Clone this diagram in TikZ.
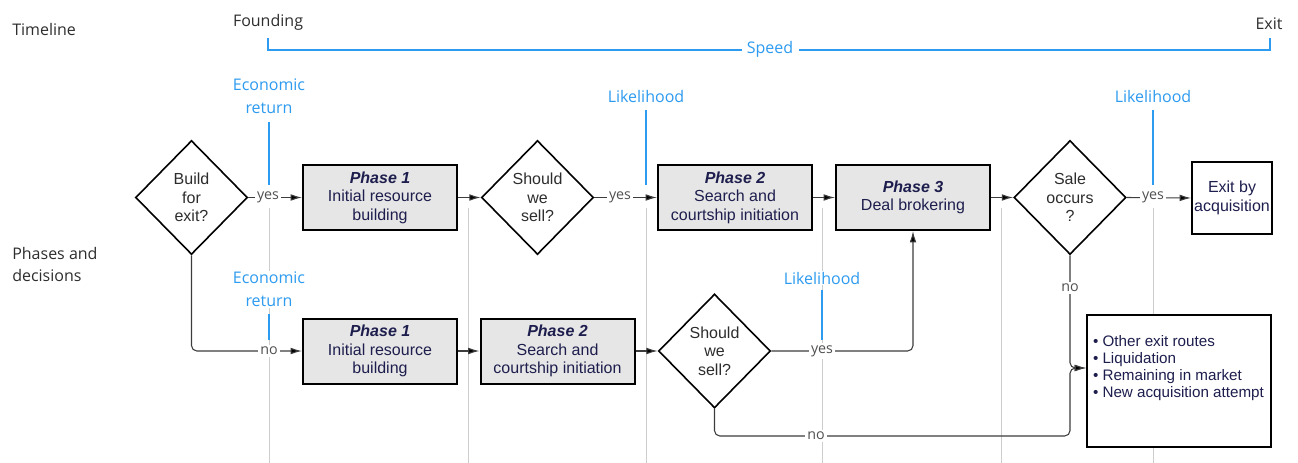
\documentclass[tikz,border=0pt]{standalone}
\usepackage{fontspec}
\setmainfont{Liberation Sans}
\newfontfamily\annotfont{Open Sans}
\usetikzlibrary{shapes.geometric,arrows.meta}

\definecolor{tlblue}{RGB}{45,155,240}
\definecolor{navy}{RGB}{30,30,78}
\definecolor{darktext}{RGB}{45,45,45}
\definecolor{boxgray}{RGB}{230,230,230}
\definecolor{linegray}{RGB}{60,60,60}
\definecolor{markgray}{RGB}{205,205,205}
\definecolor{anstext}{RGB}{80,80,80}

\tikzset{
  phase/.style={draw=black, line width=1.5pt, fill=boxgray, minimum width=115.5pt,
    minimum height=48.75pt, inner sep=1pt, align=center, text=navy,
    font=\fontsize{12}{13.9}\selectfont},
  decide/.style={diamond, draw=black, line width=1.2pt, fill=white, minimum width=84pt,
    minimum height=85.5pt, inner sep=0pt, align=center, text=darktext,
    font=\fontsize{12}{13.9}\selectfont},
  outcome/.style={draw=black, line width=1.5pt, fill=white, text=navy},
  flow/.style={draw=linegray, line width=0.8pt, rounded corners=4pt,
    -{Latex[length=8.5pt,width=5pt,fill=black]}},
  answer/.style={fill=white, text=anstext, inner sep=1.5pt,
    font=\annotfont\fontsize{10.7}{12}\selectfont},
  marker/.style={draw=markgray, line width=0.75pt},
  cue/.style={text=tlblue, fill=white, inner sep=1pt, align=center,
    font=\annotfont\fontsize{12}{17}\selectfont},
  cueline/.style={draw=tlblue, line width=1pt},
  annot/.style={text=darktext, inner sep=0pt, align=left,
    font=\annotfont\fontsize{12}{17}\selectfont},
  bracket/.style={draw=tlblue, line width=2.2pt},
}

\newcommand{\phasehead}[1]{{\bfseries\itshape #1}}

\begin{document}
\begin{tikzpicture}[x=0.75pt, y=-0.75pt]
\useasboundingbox (0,0) rectangle (1298,463);

% vertical guide lines behind the flow
\foreach \gx in {269,468,646,822,1001,1153}
  \draw[marker] (\gx,208) -- (\gx,463);

% timeline header
\node[annot, anchor=west] (timeline) at (12,30) {Timeline};
\node[annot] (founding) at (268,22) {Founding};
\node[annot] (exitlbl) at (1269,24) {Exit};
\draw[bracket] (268,38) -- (268,50) -- (1270,50) -- (1270,38);
\node[cue, inner xsep=4pt] (speed) at (770,49) {Speed};

\node[annot, anchor=west] (phases) at (12,264.5) {Phases and\\decisions};

% measurement cues on the guide lines
\draw[cueline] (269,122) -- (269,185);
\draw[cueline] (646,110) -- (646,185);
\draw[cueline] (1153,110) -- (1153,185);
\draw[cueline] (269,314) -- (269,340);
\draw[cueline] (822,290) -- (822,340);

\node[cue] (econtop) at (269,96.5) {Economic\\return};
\node[cue] (liketop) at (646,97) {Likelihood};
\node[cue] (likeend) at (1153,97) {Likelihood};
\node[cue] (econbot) at (269,289.5) {Economic\\return};
\node[cue] (likebot) at (822,278) {Likelihood};

% upper path: building for exit
\node[decide] (build) at (191.5,197.5) {Build\\for\\exit?};
\node[phase] (p1t) at (380,197.5) {\phasehead{Phase 1}\\Initial resource\\building};
\node[decide] (sell1) at (537.5,197.5) {Should\\we\\sell?};
\node[phase] (p2t) at (735,197.5) {\phasehead{Phase 2}\\Search and\\courtship initiation};
\node[phase] (p3) at (913,197.5) {\phasehead{Phase 3}\\Deal brokering};
\node[decide] (sale) at (1070,197.5) {Sale\\occurs\\?};
\node[outcome, minimum width=60pt, minimum height=54pt, inner sep=1pt, align=center,
  font=\fontsize{12}{14}\selectfont] (acq) at (1232,198) {Exit by\\acquisition};

% lower path: not building for exit
\node[phase] (p1b) at (380,351) {\phasehead{Phase 1}\\Initial resource\\building};
\node[phase] (p2b) at (557.5,351) {\phasehead{Phase 2}\\Search and\\courtship initiation};
\node[decide] (sell2) at (714.5,351) {Should\\we\\sell?};
\node[outcome, minimum width=138pt, minimum height=99pt, inner xsep=4.5pt, inner ysep=0pt,
  font=\fontsize{11.4}{12.75}\selectfont] (other) at (1179,381)
  {\parbox[c][96pt][t]{129pt}{\vspace*{13.5pt}\raggedright
   • Other exit routes\\• Liquidation\\• Remaining in market\\• New acquisition attempt}};

\coordinate (nobottom) at (1070,436);
\coordinate (nojoin) at (1070,368);

% connectors
\draw[flow] (build.east) -- (p1t.west);
\draw[flow] (p1t.east) -- (sell1.west);
\draw[flow] (sell1.east) -- (p2t.west);
\draw[flow] (p2t.east) -- (p3.west);
\draw[flow] (p3.east) -- (sale.west);
\draw[flow] (sale.east) -- (acq.west);

\draw[flow] (build.south) |- (p1b.west);
\draw[flow] (p1b.east) -- (p2b.west);
\draw[flow] (p2b.east) -- (sell2.west);
\draw[flow] (sell2.east) -| (p3.south);
\draw[flow] (sell2.south) |- (nobottom) -- (nojoin) -- (other.west |- nojoin);
\draw[flow] (sale.south) -- (nojoin) -- (other.west |- nojoin);

% answer labels on the connectors
\node[answer] (yes1) at (268,197.5) {yes};
\node[answer] (yes2) at (620,197.5) {yes};
\node[answer] (yes3) at (1153,197.5) {yes};
\node[answer] (yes4) at (822,351) {yes};
\node[answer] (no1) at (269,351) {no};
\node[answer] (no2) at (816,436) {no};
\node[answer] (no3) at (1070,288) {no};
\end{tikzpicture}
\end{document}
